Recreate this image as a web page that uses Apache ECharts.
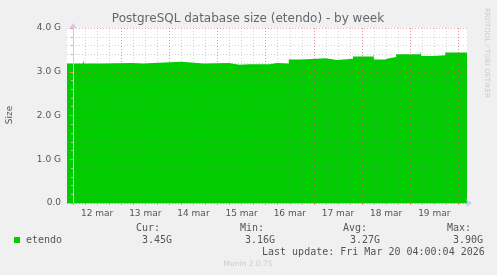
<!DOCTYPE html>
<html><head><meta charset="utf-8">
<script src="https://cdn.jsdelivr.net/npm/echarts@6/dist/echarts.min.js"></script>
<style>html,body{margin:0;padding:0;background:#f0f0f0}#c{width:497px;height:275px}</style>
</head><body><div id="c"></div>
<script>
// hours since 12 mar 00:00 where each level starts
const hours = [-3, 5, 5.5, 14, 29.5, 35, 40, 54, 65, 77.5, 83, 88, 98, 101.5, 107.5, 114, 126, 131.5, 139.5, 149.5, 150, 155.5, 157.5, 161, 173, 173.5, 179.5, 185.5, 196.3];
const sizeG = [3.19, 3.27, 3.19, 3.20, 3.19, 3.20, 3.23, 3.19, 3.20, 3.16, 3.17, 3.17, 3.20, 3.19, 3.28, 3.31, 3.27, 3.30, 3.35, 3.42, 3.28, 3.31, 3.34, 3.40, 3.48, 3.36, 3.38, 3.44, 3.44];
const dayLabels = ['12 mar', '13 mar', '14 mar', '15 mar', '16 mar', '17 mar', '18 mar', '19 mar'];
const yTicks = [0, 1, 2, 3, 4];
const seriesName = 'etendo';
const statNames = ['Cur:', 'Min:', 'Avg:', 'Max:'];
const statValues = ['3.45G', '3.16G', '3.27G', '3.90G'];
const titleText = 'PostgreSQL database size (etendo) - by week';
const lastUpdate = 'Last update: Fri Mar 20 04:00:04 2026';

const data = [];
for (let i = 0; i < hours.length - 1; i++) {
  data.push([hours[i], sizeG[i]]);
  data.push([hours[i + 1], sizeG[i]]);
}
const sixHour = [], dayBounds = [], noon = [];
for (let h = 0; h <= dayLabels.length * 24; h += 6) sixHour.push(h);
for (let d = 0; d <= dayLabels.length; d++) dayBounds.push(d * 24);
dayLabels.forEach((_, d) => noon.push(d * 24 + 12));

const xMin = hours[0], xMax = hours[hours.length - 1];
const minorCol = 'rgba(130,130,130,0.35)';
const majorCol = 'rgba(230,90,90,0.5)';
const axisCol = '#c8ccf4';
const txt = '#555';

const chart = echarts.init(document.getElementById('c'), null, {renderer: 'canvas'});
const statX = [[136, 142], [240, 245], [343, 350], [447, 453]];
const graphics = [
  {type: 'text', x: 248, y: 19, style: {text: titleText, fill: '#666', font: '12px "DejaVu Sans"', textAlign: 'center', textVerticalAlign: 'middle'}},
  {type: 'text', x: 487, y: 53, rotation: -Math.PI / 2, style: {text: 'RRDTOOL / TOBI OETIKER', fill: '#ccc', font: '7px "DejaVu Sans"', textAlign: 'center', textVerticalAlign: 'middle'}},
  {type: 'text', x: 10, y: 115, rotation: Math.PI / 2, style: {text: 'Size', fill: txt, font: '9px "DejaVu Sans"', textAlign: 'center', textVerticalAlign: 'middle'}},
  {type: 'rect', shape: {x: 14, y: 237, width: 6, height: 6}, style: {fill: '#00cc00'}},
  {type: 'text', x: 26, y: 240, style: {text: seriesName, fill: txt, font: '10px "DejaVu Sans Mono"', textVerticalAlign: 'middle'}},
  {type: 'text', x: 262, y: 252, style: {text: lastUpdate, fill: txt, font: '10px "DejaVu Sans Mono"', textVerticalAlign: 'middle'}},
  {type: 'text', x: 248, y: 264, style: {text: 'Munin 2.0.75', fill: '#ccc', font: '7.5px "DejaVu Sans"', textAlign: 'center', textVerticalAlign: 'middle'}}
];
statNames.forEach((n, i) => {
  graphics.push({type: 'text', x: statX[i][0], y: 228, style: {text: n, fill: txt, font: '10px "DejaVu Sans Mono"', textVerticalAlign: 'middle'}});
  graphics.push({type: 'text', x: statX[i][1], y: 240, style: {text: statValues[i], fill: txt, font: '10px "DejaVu Sans Mono"', textVerticalAlign: 'middle'}});
});

chart.setOption({
  backgroundColor: '#f0f0f0',
  animation: false,
  grid: {left: 67, right: 30, top: 28, bottom: 72, containLabel: false, show: true, backgroundColor: '#fff', borderWidth: 0},
  xAxis: [
    {type: 'value', min: xMin, max: xMax, z: 3, position: 'bottom',
     axisLine: {show: true, lineStyle: {color: axisCol, width: 1}, symbol: ['none', 'arrow'], symbolSize: [6, 6], symbolOffset: [0, 5]},
     axisTick: {show: true, length: 2, inside: false, customValues: sixHour, lineStyle: {color: '#bbb'}},
     axisLabel: {show: false},
     splitLine: {show: true, lineStyle: {color: minorCol, type: [1, 2], width: 1}}},
    {type: 'value', min: xMin, max: xMax, z: 4, position: 'bottom', offset: 0,
     axisLine: {show: false},
     axisTick: {show: true, length: 2, customValues: dayBounds, lineStyle: {color: '#e88'}},
     axisLabel: {show: true, customValues: noon, color: txt, fontFamily: 'DejaVu Sans', fontSize: 9, margin: 6,
       formatter: v => dayLabels[Math.round((v - 12) / 24)] || ''},
     splitLine: {show: true, lineStyle: {color: majorCol, type: [1, 2], width: 1}}}
  ],
  yAxis: {type: 'value', min: yTicks[0], max: yTicks[yTicks.length - 1], interval: 1, z: 4,
    axisLine: {show: true, lineStyle: {color: axisCol}, symbol: ['none', 'arrow'], symbolSize: [6, 6], symbolOffset: [0, 5]},
    axisTick: {show: true, length: 3, lineStyle: {color: '#e88'}},
    minorTick: {show: true, splitNumber: 5, length: 2, lineStyle: {color: '#bbb'}},
    axisLabel: {color: txt, fontFamily: 'DejaVu Sans', fontSize: 9, margin: 6,
      formatter: v => v === 0 ? '0.0' : v.toFixed(1) + ' G'},
    splitLine: {show: true, lineStyle: {color: majorCol, type: [1, 2]}},
    minorSplitLine: {show: true, lineStyle: {color: minorCol, type: [1, 2]}}},
  series: [{type: 'line', name: seriesName, xAxisIndex: 0, data: data, symbol: 'none', z: 2,
    lineStyle: {width: 0}, areaStyle: {color: '#00cc00', opacity: 1}}],
  graphic: graphics
});
</script></body></html>
